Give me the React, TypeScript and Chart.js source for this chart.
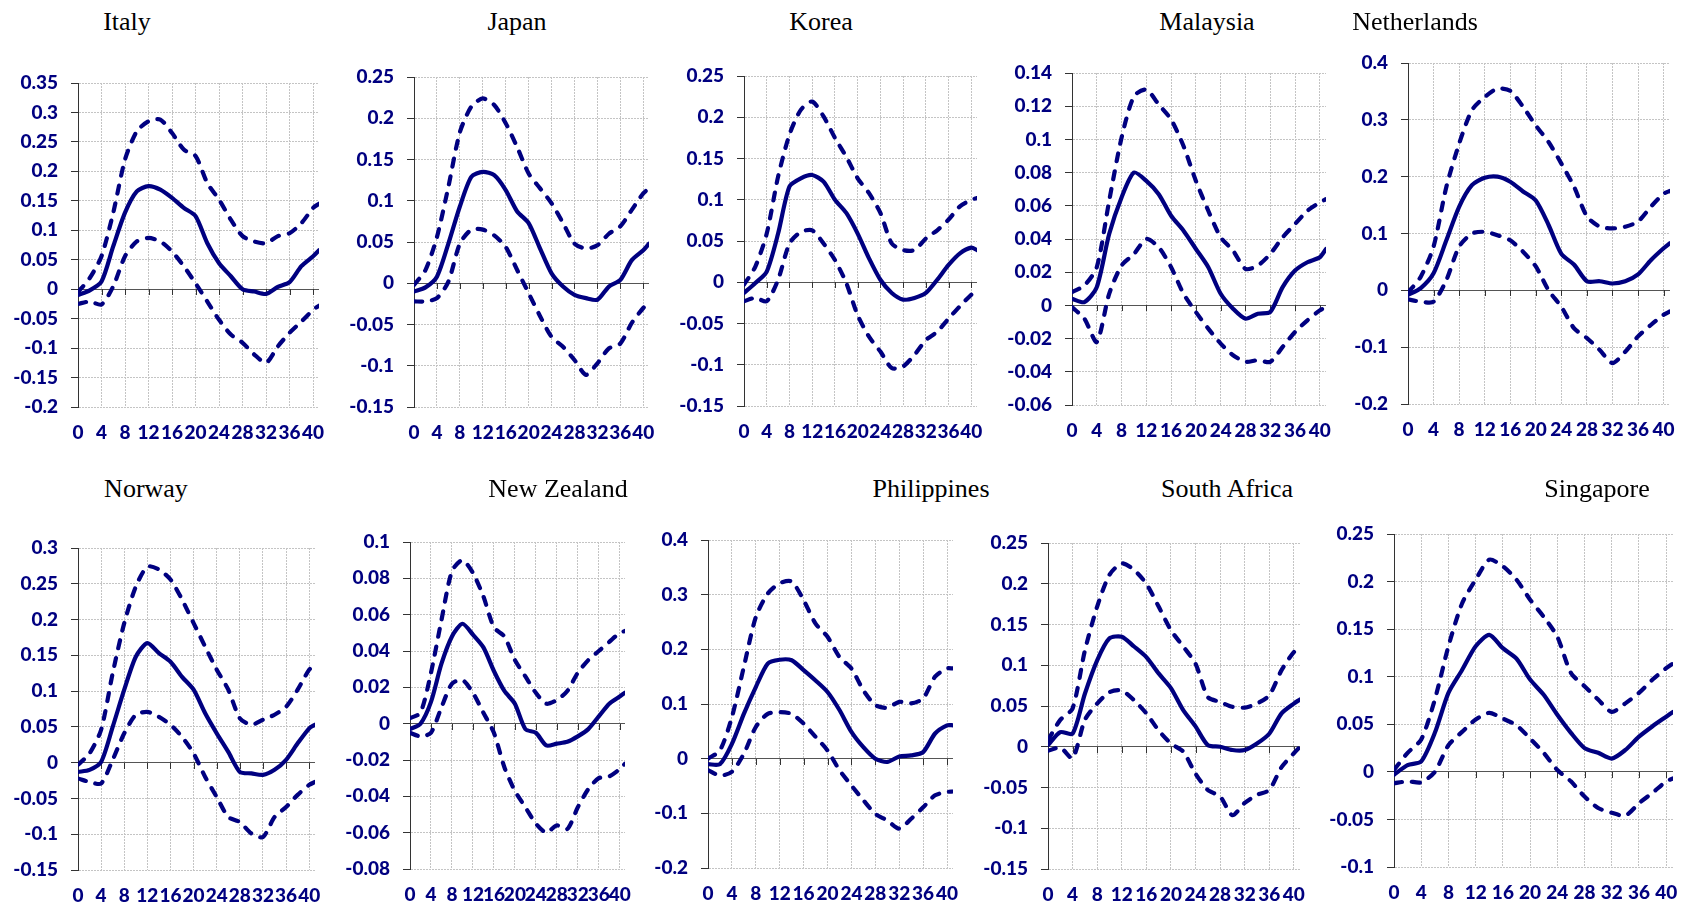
import React, { useEffect, useRef } from "react";
import { Chart, registerables } from "chart.js";

Chart.register(...registerables);

// ---------- data ----------
const HORIZONS = [0, 2, 4, 6, 8, 10, 12, 14, 16, 18, 20, 22, 24, 26, 28, 30, 32, 34, 36, 38, 40, 41];
const X_TICKS = [0, 4, 8, 12, 16, 20, 24, 28, 32, 36, 40];

const ITALY_UP = [-0.005, 0.019, 0.056, 0.13, 0.22, 0.268, 0.285, 0.288, 0.265, 0.237, 0.226, 0.18, 0.152, 0.118, 0.09, 0.081, 0.078, 0.09, 0.095, 0.112, 0.138, 0.145];
const ITALY_MID = [-0.01, -0.002, 0.013, 0.073, 0.13, 0.166, 0.175, 0.169, 0.155, 0.138, 0.124, 0.078, 0.044, 0.022, 0.0, -0.004, -0.008, 0.004, 0.012, 0.039, 0.056, 0.066];
const ITALY_LO = [-0.025, -0.021, -0.026, 0.005, 0.056, 0.081, 0.087, 0.081, 0.064, 0.039, 0.01, -0.021, -0.052, -0.077, -0.091, -0.111, -0.125, -0.097, -0.074, -0.055, -0.035, -0.028];

const JAPAN_UP = [-0.002, 0.016, 0.056, 0.117, 0.183, 0.214, 0.224, 0.216, 0.194, 0.165, 0.133, 0.115, 0.097, 0.073, 0.048, 0.042, 0.046, 0.06, 0.069, 0.089, 0.109, 0.115];
const JAPAN_MID = [-0.01, -0.005, 0.008, 0.048, 0.093, 0.129, 0.135, 0.131, 0.113, 0.087, 0.073, 0.042, 0.012, -0.004, -0.014, -0.018, -0.02, -0.004, 0.004, 0.028, 0.04, 0.048];
const JAPAN_LO = [-0.022, -0.022, -0.018, 0.002, 0.048, 0.065, 0.065, 0.058, 0.044, 0.016, -0.012, -0.04, -0.065, -0.077, -0.093, -0.111, -0.097, -0.079, -0.073, -0.048, -0.03, -0.024];

const KOREA_UP = [-0.003, 0.019, 0.059, 0.128, 0.179, 0.209, 0.219, 0.201, 0.175, 0.152, 0.126, 0.108, 0.084, 0.047, 0.039, 0.039, 0.053, 0.063, 0.076, 0.092, 0.1, 0.102];
const KOREA_MID = [-0.013, -0.001, 0.013, 0.059, 0.116, 0.126, 0.13, 0.122, 0.1, 0.084, 0.059, 0.029, 0.003, -0.013, -0.021, -0.019, -0.013, 0.003, 0.021, 0.035, 0.042, 0.039];
const KOREA_LO = [-0.023, -0.019, -0.023, 0.003, 0.047, 0.061, 0.063, 0.047, 0.027, -0.001, -0.04, -0.066, -0.084, -0.104, -0.102, -0.088, -0.07, -0.06, -0.044, -0.029, -0.015, -0.009];

const MALAYSIA_UP = [0.008, 0.012, 0.023, 0.063, 0.101, 0.126, 0.13, 0.121, 0.112, 0.096, 0.075, 0.057, 0.041, 0.033, 0.022, 0.024, 0.031, 0.041, 0.049, 0.057, 0.062, 0.064];
const MALAYSIA_MID = [0.004, 0.002, 0.011, 0.043, 0.065, 0.08, 0.075, 0.067, 0.054, 0.045, 0.034, 0.023, 0.007, -0.002, -0.008, -0.005, -0.004, 0.011, 0.021, 0.026, 0.029, 0.034];
const MALAYSIA_LO = [-0.001, -0.008, -0.022, 0.007, 0.024, 0.031, 0.04, 0.035, 0.023, 0.007, -0.004, -0.014, -0.023, -0.03, -0.034, -0.033, -0.034, -0.025, -0.016, -0.009, -0.003, -0.001];

const NETHERLANDS_UP = [-0.004, 0.024, 0.077, 0.182, 0.258, 0.317, 0.34, 0.355, 0.351, 0.323, 0.29, 0.261, 0.223, 0.182, 0.13, 0.112, 0.109, 0.112, 0.121, 0.147, 0.17, 0.175];
const NETHERLANDS_MID = [-0.008, 0.004, 0.03, 0.088, 0.147, 0.185, 0.198, 0.2, 0.191, 0.174, 0.158, 0.115, 0.064, 0.045, 0.016, 0.016, 0.012, 0.016, 0.028, 0.053, 0.074, 0.083];
const NETHERLANDS_LO = [-0.016, -0.02, -0.02, 0.018, 0.077, 0.1, 0.103, 0.097, 0.088, 0.068, 0.042, 0.0, -0.029, -0.067, -0.084, -0.105, -0.128, -0.108, -0.081, -0.061, -0.043, -0.037];

const NORWAY_UP = [-0.003, 0.013, 0.046, 0.125, 0.195, 0.246, 0.274, 0.27, 0.256, 0.228, 0.195, 0.162, 0.13, 0.102, 0.062, 0.053, 0.06, 0.067, 0.078, 0.102, 0.13, 0.136];
const NORWAY_MID = [-0.013, -0.01, 0.001, 0.05, 0.102, 0.148, 0.167, 0.153, 0.141, 0.12, 0.102, 0.069, 0.041, 0.015, -0.013, -0.015, -0.017, -0.01, 0.004, 0.027, 0.048, 0.053];
const NORWAY_LO = [-0.022, -0.027, -0.029, 0.004, 0.041, 0.067, 0.071, 0.064, 0.053, 0.036, 0.013, -0.02, -0.048, -0.076, -0.083, -0.099, -0.104, -0.076, -0.062, -0.045, -0.031, -0.027];

const NZ_UP = [0.003, 0.006, 0.028, 0.057, 0.084, 0.09, 0.083, 0.07, 0.053, 0.048, 0.035, 0.026, 0.017, 0.011, 0.013, 0.018, 0.028, 0.035, 0.04, 0.045, 0.05, 0.051];
const NZ_MID = [-0.003, 0.0, 0.012, 0.033, 0.048, 0.055, 0.049, 0.042, 0.029, 0.018, 0.011, -0.003, -0.005, -0.012, -0.011, -0.01, -0.007, -0.003, 0.004, 0.011, 0.015, 0.017];
const NZ_LO = [-0.005, -0.007, -0.005, 0.009, 0.022, 0.024, 0.017, 0.006, -0.005, -0.024, -0.037, -0.046, -0.055, -0.06, -0.056, -0.058, -0.046, -0.036, -0.03, -0.029, -0.025, -0.022];

const PHILIPPINES_UP = [0.0, 0.015, 0.076, 0.168, 0.259, 0.302, 0.321, 0.324, 0.29, 0.247, 0.223, 0.186, 0.165, 0.125, 0.098, 0.093, 0.104, 0.101, 0.11, 0.15, 0.165, 0.165];
const PHILIPPINES_MID = [-0.01, -0.01, 0.027, 0.082, 0.131, 0.174, 0.181, 0.18, 0.162, 0.143, 0.122, 0.089, 0.049, 0.021, 0.0, -0.006, 0.004, 0.006, 0.012, 0.046, 0.061, 0.061];
const PHILIPPINES_LO = [-0.021, -0.031, -0.024, 0.009, 0.058, 0.082, 0.085, 0.082, 0.064, 0.04, 0.015, -0.021, -0.049, -0.076, -0.101, -0.113, -0.128, -0.11, -0.089, -0.067, -0.061, -0.06];

const SOUTH_AFRICA_UP = [0.008, 0.033, 0.047, 0.118, 0.172, 0.211, 0.225, 0.217, 0.2, 0.172, 0.143, 0.123, 0.102, 0.061, 0.055, 0.049, 0.048, 0.053, 0.063, 0.094, 0.116, 0.12];
const SOUTH_AFRICA_MID = [0.002, 0.018, 0.016, 0.065, 0.106, 0.133, 0.135, 0.123, 0.11, 0.09, 0.072, 0.045, 0.025, 0.002, 0.0, -0.004, -0.004, 0.004, 0.016, 0.041, 0.053, 0.058];
const SOUTH_AFRICA_LO = [-0.005, -0.001, -0.014, 0.033, 0.053, 0.067, 0.069, 0.057, 0.041, 0.02, 0.004, -0.006, -0.033, -0.053, -0.061, -0.084, -0.069, -0.059, -0.053, -0.025, -0.008, 0.0];

const SINGAPORE_UP = [0.002, 0.02, 0.034, 0.076, 0.132, 0.177, 0.202, 0.223, 0.216, 0.202, 0.181, 0.163, 0.142, 0.104, 0.09, 0.076, 0.063, 0.072, 0.083, 0.097, 0.109, 0.114];
const SINGAPORE_MID = [-0.003, 0.007, 0.011, 0.041, 0.083, 0.107, 0.132, 0.144, 0.13, 0.119, 0.097, 0.081, 0.06, 0.041, 0.025, 0.02, 0.014, 0.023, 0.037, 0.048, 0.058, 0.063];
const SINGAPORE_LO = [-0.012, -0.01, -0.011, 0.0, 0.028, 0.042, 0.055, 0.062, 0.056, 0.049, 0.035, 0.02, 0.002, -0.01, -0.026, -0.038, -0.043, -0.046, -0.033, -0.022, -0.01, -0.007];

// ---------- layout / style ----------
const NAVY = "#000080";
const TICK_FONT = "Lato, 'Open Sans', 'DejaVu Sans', sans-serif";
const TITLE_FONT = "'Liberation Serif', 'DejaVu Serif', serif";
const Y_W = 80;
const PAD_T = 30;
const PAD_R = 34;
const X_H = 45;

type Panel = {
  name: string;
  up: number[];
  mid: number[];
  lo: number[];
  yMin: number;
  yMax: number;
  yStep: number;
  l: number; t: number; r: number; b: number;
  tx: number; ty: number;
};

const PANELS: Panel[] = [
  { name: "Italy", up: ITALY_UP, mid: ITALY_MID, lo: ITALY_LO, yMin: -0.2, yMax: 0.35, yStep: 0.05, l: 78, t: 83, r: 319, b: 407, tx: 127, ty: 9 },
  { name: "Japan", up: JAPAN_UP, mid: JAPAN_MID, lo: JAPAN_LO, yMin: -0.15, yMax: 0.25, yStep: 0.05, l: 414, t: 77, r: 649, b: 407, tx: 517, ty: 9 },
  { name: "Korea", up: KOREA_UP, mid: KOREA_MID, lo: KOREA_LO, yMin: -0.15, yMax: 0.25, yStep: 0.05, l: 744, t: 76, r: 977, b: 406, tx: 821, ty: 9 },
  { name: "Malaysia", up: MALAYSIA_UP, mid: MALAYSIA_MID, lo: MALAYSIA_LO, yMin: -0.06, yMax: 0.14, yStep: 0.02, l: 1072, t: 73, r: 1326, b: 405, tx: 1207, ty: 9 },
  { name: "Netherlands", up: NETHERLANDS_UP, mid: NETHERLANDS_MID, lo: NETHERLANDS_LO, yMin: -0.2, yMax: 0.4, yStep: 0.1, l: 1408, t: 63, r: 1670, b: 404, tx: 1415, ty: 9 },
  { name: "Norway", up: NORWAY_UP, mid: NORWAY_MID, lo: NORWAY_LO, yMin: -0.15, yMax: 0.3, yStep: 0.05, l: 78, t: 548, r: 315, b: 870, tx: 146, ty: 476 },
  { name: "New Zealand", up: NZ_UP, mid: NZ_MID, lo: NZ_LO, yMin: -0.08, yMax: 0.1, yStep: 0.02, l: 410, t: 542, r: 625, b: 869, tx: 558, ty: 476 },
  { name: "Philippines", up: PHILIPPINES_UP, mid: PHILIPPINES_MID, lo: PHILIPPINES_LO, yMin: -0.2, yMax: 0.4, yStep: 0.1, l: 708, t: 540, r: 953, b: 868, tx: 931, ty: 476 },
  { name: "South Africa", up: SOUTH_AFRICA_UP, mid: SOUTH_AFRICA_MID, lo: SOUTH_AFRICA_LO, yMin: -0.15, yMax: 0.25, yStep: 0.05, l: 1048, t: 543, r: 1300, b: 869, tx: 1227, ty: 476 },
  { name: "Singapore", up: SINGAPORE_UP, mid: SINGAPORE_MID, lo: SINGAPORE_LO, yMin: -0.1, yMax: 0.25, yStep: 0.05, l: 1394, t: 534, r: 1673, b: 867, tx: 1597, ty: 476 },
];

const isZeroTick = (ctx: any) => !!ctx.tick && Math.abs(ctx.tick.value) < 1e-9;

const zeroAxisTicks = {
  id: "zeroAxisTicks",
  beforeDatasetsDraw(chart: any) {
    const { ctx, scales } = chart;
    const x = scales.x;
    const y = scales.y;
    const y0 = Math.round(y.getPixelForValue(0));
    ctx.save();
    ctx.strokeStyle = "#333";
    ctx.lineWidth = 1;
    ctx.beginPath();
    X_TICKS.forEach((v) => {
      if (v === 0) return;
      const px = Math.round(x.getPixelForValue(v)) + 0.5;
      ctx.moveTo(px, y0);
      ctx.lineTo(px, y0 + 6);
    });
    ctx.stroke();
    ctx.restore();
  },
};

function PanelChart({ p }: { p: Panel }) {
  const ref = useRef<HTMLCanvasElement>(null);
  const plotW = p.r - p.l;
  const plotH = p.b - p.t;
  const w = Y_W + plotW + PAD_R;
  const h = PAD_T + plotH + X_H;

  useEffect(() => {
    if (!ref.current) return;
    const pts = (arr: number[]) => HORIZONS.map((x, i) => ({ x, y: arr[i] }));
    const base = {
      borderColor: NAVY,
      borderWidth: 4.2,
      pointRadius: 0,
      pointHoverRadius: 0,
      tension: 0.25,
      fill: false,
    };
    const tickFont = { family: TICK_FONT, size: 19, weight: 900 as any };
    const chart = new Chart(ref.current, {
      type: "line",
      data: {
        datasets: [
          { ...base, data: pts(p.up), borderDash: [8, 10], borderCapStyle: "round" },
          { ...base, data: pts(p.mid), borderCapStyle: "round", borderJoinStyle: "round" },
          { ...base, data: pts(p.lo), borderDash: [8, 10], borderCapStyle: "round" },
        ],
      },
      options: {
        animation: false,
        responsive: false,
        maintainAspectRatio: false,
        events: [],
        layout: { padding: { left: 0, top: PAD_T, right: PAD_R, bottom: 0 } },
        plugins: { legend: { display: false }, tooltip: { enabled: false }, title: { display: false } },
        scales: {
          x: {
            type: "linear",
            min: 0,
            max: 41,
            afterFit: (s: any) => { s.height = X_H; },
            afterBuildTicks: (s: any) => { s.ticks = X_TICKS.map((v) => ({ value: v })); },
            ticks: {
              autoSkip: false,
              maxRotation: 0,
              minRotation: 0,
              padding: 14,
              color: NAVY,
              font: tickFont,
              callback: (v: any) => String(v),
            },
            grid: { color: "#c4c4c4", lineWidth: 1, drawTicks: false },
            border: { display: false, dash: [2, 1] },
          },
          y: {
            min: p.yMin,
            max: p.yMax,
            afterFit: (s: any) => { s.width = Y_W; },
            ticks: {
              stepSize: p.yStep,
              padding: 13,
              color: NAVY,
              font: tickFont,
              callback: (v: any) => String(Math.round(Number(v) * 1000) / 1000),
            },
            grid: {
              color: (ctx: any) => (isZeroTick(ctx) ? "#555" : "#c4c4c4"),
              lineWidth: 1,
              tickLength: 7,
              tickColor: "#333",
              tickWidth: 1,
            },
            border: {
              display: true,
              color: "#333",
              width: 1,
              dash: (ctx: any) => (isZeroTick(ctx) || !ctx.tick ? [] : [2, 1]),
            },
          },
        },
      } as any,
      plugins: [zeroAxisTicks],
    } as any);
    return () => chart.destroy();
  }, [p]);

  return (
    <canvas
      ref={ref}
      width={w}
      height={h}
      style={{ position: "absolute", left: p.l - Y_W, top: p.t - PAD_T, width: w, height: h, display: "block" }}
    />
  );
}

export default function App() {
  return (
    <div style={{ position: "absolute", left: 0, top: 0, width: 1684, height: 908, background: "#fff", overflow: "hidden" }}>
      {PANELS.map((p) => (
        <PanelChart key={p.name} p={p} />
      ))}
      {PANELS.map((p) => (
        <div
          key={p.name + "-title"}
          style={{
            position: "absolute",
            left: p.tx,
            top: p.ty,
            transform: "translateX(-50%)",
            fontFamily: TITLE_FONT,
            fontSize: 26,
            lineHeight: "26px",
            color: "#000",
            whiteSpace: "nowrap",
          }}
        >
          {p.name}
        </div>
      ))}
    </div>
  );
}
